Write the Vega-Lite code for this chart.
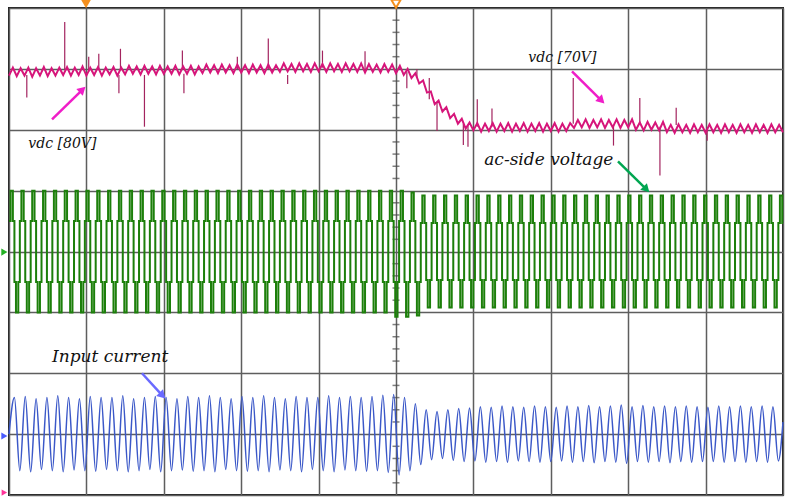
{
"$schema": "https://vega.github.io/schema/vega-lite/v6.json",
"width": 774, "height": 487,
"autosize": {"type": "none"},
"padding": {"left": 9, "top": 8, "right": 4, "bottom": 2},
"background": "white",
"config": {"view": {"stroke": "#1e1e1e", "strokeWidth": 2}},
"datasets": {
"blue": [
{"t":0,"v":1.0},{"t":0.07,"v":1.6},{"t":0.14,"v":0.4},{"t":0.21,"v":1.62},{"t":0.28,"v":0.38},{"t":0.35,"v":1.58},{"t":0.42,"v":0.42},{"t":0.49,"v":1.6},{"t":0.56,"v":0.4},{"t":0.63,"v":1.63},{"t":0.70,"v":0.38},{"t":0.77,"v":1.6},{"t":0.84,"v":0.41},{"t":0.91,"v":1.58},{"t":0.98,"v":0.4},{"t":1.05,"v":1.62},{"t":1.12,"v":0.39},{"t":1.19,"v":1.6},{"t":1.26,"v":0.42},{"t":1.33,"v":1.6},{"t":1.40,"v":0.4},{"t":1.47,"v":1.63},{"t":1.54,"v":0.38},{"t":1.61,"v":1.58},{"t":1.68,"v":0.4},{"t":1.75,"v":1.6},{"t":1.82,"v":0.42},{"t":1.89,"v":1.62},{"t":1.96,"v":0.38},{"t":2.03,"v":1.6},{"t":2.10,"v":0.4},{"t":2.17,"v":1.58},{"t":2.24,"v":0.41},{"t":2.31,"v":1.62},{"t":2.38,"v":0.39},{"t":2.45,"v":1.6},{"t":2.52,"v":0.4},{"t":2.59,"v":1.63},{"t":2.66,"v":0.38},{"t":2.73,"v":1.6},{"t":2.80,"v":0.42},{"t":2.87,"v":1.58},{"t":2.94,"v":0.4},{"t":3.01,"v":1.62},{"t":3.08,"v":0.39},{"t":3.15,"v":1.6},{"t":3.22,"v":0.4},{"t":3.29,"v":1.63},{"t":3.36,"v":0.38},{"t":3.43,"v":1.6},{"t":3.50,"v":0.41},{"t":3.57,"v":1.58},{"t":3.64,"v":0.4},{"t":3.71,"v":1.62},{"t":3.78,"v":0.38},{"t":3.85,"v":1.6},{"t":3.92,"v":0.42},{"t":3.99,"v":1.6},{"t":4.06,"v":0.4},{"t":4.13,"v":1.63},{"t":4.20,"v":0.38},{"t":4.27,"v":1.6},{"t":4.34,"v":0.41},{"t":4.41,"v":1.62},{"t":4.48,"v":0.4},{"t":4.55,"v":1.6},{"t":4.62,"v":0.39},{"t":4.69,"v":1.62},{"t":4.76,"v":0.4},{"t":4.83,"v":1.64},{"t":4.90,"v":0.37},{"t":4.97,"v":1.65},{"t":5.04,"v":0.33},{"t":5.11,"v":1.6},{"t":5.18,"v":0.4},{"t":5.25,"v":1.5},{"t":5.32,"v":0.5},{"t":5.39,"v":1.4},{"t":5.46,"v":0.58},{"t":5.53,"v":1.37},{"t":5.60,"v":0.6},{"t":5.67,"v":1.4},{"t":5.74,"v":0.57},{"t":5.81,"v":1.42},{"t":5.88,"v":0.55},{"t":5.95,"v":1.43},{"t":6.02,"v":0.56},{"t":6.09,"v":1.45},{"t":6.16,"v":0.54},{"t":6.23,"v":1.44},{"t":6.30,"v":0.55},{"t":6.37,"v":1.46},{"t":6.44,"v":0.54},{"t":6.51,"v":1.45},{"t":6.58,"v":0.56},{"t":6.65,"v":1.44},{"t":6.72,"v":0.55},{"t":6.79,"v":1.46},{"t":6.86,"v":0.54},{"t":6.93,"v":1.45},{"t":7.00,"v":0.55},{"t":7.07,"v":1.44},{"t":7.14,"v":0.56},{"t":7.21,"v":1.46},{"t":7.28,"v":0.54},{"t":7.35,"v":1.45},{"t":7.42,"v":0.55},{"t":7.49,"v":1.47},{"t":7.56,"v":0.53},{"t":7.63,"v":1.45},{"t":7.70,"v":0.55},{"t":7.77,"v":1.46},{"t":7.84,"v":0.54},{"t":7.91,"v":1.48},{"t":7.98,"v":0.52},{"t":8.05,"v":1.45},{"t":8.12,"v":0.55},{"t":8.19,"v":1.47},{"t":8.26,"v":0.54},{"t":8.33,"v":1.45},{"t":8.40,"v":0.55},{"t":8.47,"v":1.46},{"t":8.54,"v":0.53},{"t":8.61,"v":1.45},{"t":8.68,"v":0.55},{"t":8.75,"v":1.46},{"t":8.82,"v":0.54},{"t":8.89,"v":1.45},{"t":8.96,"v":0.55},{"t":9.03,"v":1.44},{"t":9.10,"v":0.55},{"t":9.17,"v":1.46},{"t":9.24,"v":0.54},{"t":9.31,"v":1.45},{"t":9.38,"v":0.55},{"t":9.45,"v":1.46},{"t":9.52,"v":0.54},{"t":9.59,"v":1.45},{"t":9.66,"v":0.55},{"t":9.73,"v":1.46},{"t":9.80,"v":0.54},{"t":9.87,"v":1.45},{"t":9.94,"v":0.56},{"t":10.0,"v":1.2}
],
"mag": [
{"t":0.00,"v":6.89},{"t":0.05,"v":7.02},{"t":0.10,"v":6.88},{"t":0.15,"v":7.01},{"t":0.20,"v":6.89},{"t":0.25,"v":7.02},{"t":0.30,"v":6.87},{"t":0.35,"v":7.01},{"t":0.40,"v":6.89},{"t":0.45,"v":7.03},{"t":0.50,"v":6.88},{"t":0.55,"v":7.01},{"t":0.60,"v":6.89},{"t":0.65,"v":7.02},{"t":0.70,"v":6.9},{"t":0.75,"v":7.03},{"t":0.80,"v":6.89},{"t":0.85,"v":7.02},{"t":0.90,"v":6.9},{"t":0.95,"v":7.04},{"t":1.00,"v":6.89},{"t":1.05,"v":7.02},{"t":1.10,"v":6.9},{"t":1.15,"v":7.03},{"t":1.20,"v":6.89},{"t":1.25,"v":7.02},{"t":1.30,"v":6.91},{"t":1.35,"v":7.03},{"t":1.40,"v":6.89},{"t":1.45,"v":7.02},{"t":1.50,"v":6.91},{"t":1.55,"v":7.05},{"t":1.60,"v":6.92},{"t":1.65,"v":7.04},{"t":1.70,"v":6.91},{"t":1.75,"v":7.05},{"t":1.80,"v":6.92},{"t":1.85,"v":7.04},{"t":1.90,"v":6.91},{"t":1.95,"v":7.05},{"t":2.00,"v":6.92},{"t":2.05,"v":7.04},{"t":2.10,"v":6.92},{"t":2.15,"v":7.05},{"t":2.20,"v":6.91},{"t":2.25,"v":7.04},{"t":2.30,"v":6.92},{"t":2.35,"v":7.05},{"t":2.40,"v":6.91},{"t":2.45,"v":7.04},{"t":2.50,"v":6.93},{"t":2.55,"v":7.07},{"t":2.60,"v":6.94},{"t":2.65,"v":7.06},{"t":2.70,"v":6.93},{"t":2.75,"v":7.07},{"t":2.80,"v":6.94},{"t":2.85,"v":7.06},{"t":2.90,"v":6.93},{"t":2.95,"v":7.07},{"t":3.00,"v":6.94},{"t":3.05,"v":7.06},{"t":3.10,"v":6.93},{"t":3.15,"v":7.07},{"t":3.20,"v":6.94},{"t":3.25,"v":7.06},{"t":3.30,"v":6.93},{"t":3.35,"v":7.07},{"t":3.40,"v":6.94},{"t":3.45,"v":7.06},{"t":3.50,"v":6.95},{"t":3.55,"v":7.09},{"t":3.60,"v":6.96},{"t":3.65,"v":7.08},{"t":3.70,"v":6.95},{"t":3.75,"v":7.09},{"t":3.80,"v":6.96},{"t":3.85,"v":7.08},{"t":3.90,"v":6.95},{"t":3.95,"v":7.09},{"t":4.00,"v":6.96},{"t":4.05,"v":7.08},{"t":4.10,"v":6.95},{"t":4.15,"v":7.09},{"t":4.20,"v":6.96},{"t":4.25,"v":7.08},{"t":4.30,"v":6.95},{"t":4.35,"v":7.09},{"t":4.40,"v":6.96},{"t":4.45,"v":7.08},{"t":4.50,"v":6.95},{"t":4.55,"v":7.09},{"t":4.60,"v":6.94},{"t":4.65,"v":7.08},{"t":4.70,"v":6.95},{"t":4.75,"v":7.07},{"t":4.80,"v":6.94},{"t":4.85,"v":7.08},{"t":4.90,"v":6.95},{"t":4.95,"v":7.07},{"t":5.00,"v":6.93},{"t":5.05,"v":7.05},{"t":5.10,"v":6.9},{"t":5.15,"v":7.0},{"t":5.20,"v":6.85},{"t":5.25,"v":6.93},{"t":5.30,"v":6.76},{"t":5.35,"v":6.81},{"t":5.40,"v":6.61},{"t":5.45,"v":6.63},{"t":5.50,"v":6.42},{"t":5.55,"v":6.48},{"t":5.60,"v":6.3},{"t":5.65,"v":6.37},{"t":5.70,"v":6.19},{"t":5.75,"v":6.26},{"t":5.80,"v":6.1},{"t":5.85,"v":6.18},{"t":5.90,"v":6.02},{"t":5.95,"v":6.12},{"t":6.00,"v":5.99},{"t":6.05,"v":6.11},{"t":6.10,"v":5.97},{"t":6.15,"v":6.1},{"t":6.20,"v":5.98},{"t":6.25,"v":6.11},{"t":6.30,"v":5.97},{"t":6.35,"v":6.1},{"t":6.40,"v":5.98},{"t":6.45,"v":6.11},{"t":6.50,"v":5.97},{"t":6.55,"v":6.1},{"t":6.60,"v":5.98},{"t":6.65,"v":6.11},{"t":6.70,"v":5.97},{"t":6.75,"v":6.1},{"t":6.80,"v":5.98},{"t":6.85,"v":6.11},{"t":6.90,"v":5.97},{"t":6.95,"v":6.1},{"t":7.00,"v":5.98},{"t":7.05,"v":6.11},{"t":7.10,"v":5.97},{"t":7.15,"v":6.1},{"t":7.20,"v":5.98},{"t":7.25,"v":6.11},{"t":7.30,"v":6.03},{"t":7.35,"v":6.16},{"t":7.40,"v":6.04},{"t":7.45,"v":6.17},{"t":7.50,"v":6.03},{"t":7.55,"v":6.16},{"t":7.60,"v":6.04},{"t":7.65,"v":6.17},{"t":7.70,"v":6.03},{"t":7.75,"v":6.16},{"t":7.80,"v":6.04},{"t":7.85,"v":6.17},{"t":7.90,"v":6.03},{"t":7.95,"v":6.16},{"t":8.00,"v":6.04},{"t":8.05,"v":6.17},{"t":8.10,"v":6.0},{"t":8.15,"v":6.12},{"t":8.20,"v":5.99},{"t":8.25,"v":6.13},{"t":8.30,"v":6.0},{"t":8.35,"v":6.12},{"t":8.40,"v":5.99},{"t":8.45,"v":6.13},{"t":8.50,"v":5.96},{"t":8.55,"v":6.08},{"t":8.60,"v":5.95},{"t":8.65,"v":6.09},{"t":8.70,"v":5.96},{"t":8.75,"v":6.08},{"t":8.80,"v":5.95},{"t":8.85,"v":6.09},{"t":8.90,"v":5.96},{"t":8.95,"v":6.08},{"t":9.00,"v":5.95},{"t":9.05,"v":6.09},{"t":9.10,"v":5.96},{"t":9.15,"v":6.08},{"t":9.20,"v":5.95},{"t":9.25,"v":6.09},{"t":9.30,"v":5.96},{"t":9.35,"v":6.08},{"t":9.40,"v":5.95},{"t":9.45,"v":6.09},{"t":9.50,"v":5.96},{"t":9.55,"v":6.08},{"t":9.60,"v":5.95},{"t":9.65,"v":6.09},{"t":9.70,"v":5.96},{"t":9.75,"v":6.08},{"t":9.80,"v":5.95},{"t":9.85,"v":6.09},{"t":9.90,"v":5.96},{"t":9.95,"v":6.08},{"t":10.0,"v":5.96}
],
"spikes": [
{"t":0.23,"v":6.9,"v2":6.53},{"t":0.72,"v":7.0,"v2":7.77},{"t":1.03,"v":6.95,"v2":7.2},{"t":1.16,"v":7.0,"v2":7.25},{"t":1.42,"v":6.9,"v2":6.6},{"t":1.44,"v":7.0,"v2":7.33},{"t":1.75,"v":6.9,"v2":6.05},{"t":2.24,"v":7.0,"v2":7.3},{"t":2.26,"v":6.92,"v2":6.6},{"t":2.95,"v":7.0,"v2":7.2},{"t":3.35,"v":7.0,"v2":7.5},{"t":3.6,"v":6.9,"v2":6.75},{"t":4.05,"v":7.02,"v2":7.3},{"t":4.6,"v":7.0,"v2":7.29},{"t":5.14,"v":6.95,"v2":6.68},{"t":5.27,"v":6.85,"v2":7.0},{"t":5.43,"v":6.85,"v2":6.5},{"t":5.53,"v":6.45,"v2":5.98},{"t":5.87,"v":6.1,"v2":5.75},{"t":5.93,"v":6.08,"v2":5.72},{"t":6.05,"v":6.05,"v2":6.5},{"t":6.24,"v":6.05,"v2":6.35},{"t":7.29,"v":6.1,"v2":6.85},{"t":7.81,"v":6.08,"v2":5.74},{"t":8.15,"v":6.1,"v2":6.52},{"t":8.41,"v":6.05,"v2":5.25},{"t":8.62,"v":6.08,"v2":6.36},{"t":9.02,"v":6.0,"v2":5.82}
],
"green": [
{"t":0,"v":4.5},{"t":0.02,"v":5},{"t":0.05,"v":4.5},{"t":0.07,"v":3.5},{"t":0.09,"v":3},{"t":0.12,"v":3.5},
{"t":0.14,"v":4.5},{"t":0.16,"v":5},{"t":0.19,"v":4.5},{"t":0.21,"v":3.5},{"t":0.23,"v":3},{"t":0.26,"v":3.5},
{"t":0.28,"v":4.5},{"t":0.30,"v":5},{"t":0.33,"v":4.5},{"t":0.35,"v":3.5},{"t":0.37,"v":3},{"t":0.40,"v":3.5},
{"t":0.42,"v":4.5},{"t":0.44,"v":5},{"t":0.47,"v":4.5},{"t":0.49,"v":3.5},{"t":0.51,"v":3},{"t":0.54,"v":3.5},
{"t":0.56,"v":4.5},{"t":0.58,"v":5},{"t":0.61,"v":4.5},{"t":0.63,"v":3.5},{"t":0.65,"v":3},{"t":0.68,"v":3.5},
{"t":0.70,"v":4.5},{"t":0.72,"v":5},{"t":0.75,"v":4.5},{"t":0.77,"v":3.5},{"t":0.79,"v":3},{"t":0.82,"v":3.5},
{"t":0.84,"v":4.5},{"t":0.86,"v":5},{"t":0.89,"v":4.5},{"t":0.91,"v":3.5},{"t":0.93,"v":3},{"t":0.96,"v":3.5},
{"t":0.98,"v":4.5},{"t":1.00,"v":5},{"t":1.03,"v":4.5},{"t":1.05,"v":3.5},{"t":1.07,"v":3},{"t":1.10,"v":3.5},
{"t":1.12,"v":4.5},{"t":1.14,"v":5},{"t":1.17,"v":4.5},{"t":1.19,"v":3.5},{"t":1.21,"v":3},{"t":1.24,"v":3.5},
{"t":1.26,"v":4.5},{"t":1.28,"v":5},{"t":1.31,"v":4.5},{"t":1.33,"v":3.5},{"t":1.35,"v":3},{"t":1.38,"v":3.5},
{"t":1.40,"v":4.5},{"t":1.42,"v":5},{"t":1.45,"v":4.5},{"t":1.47,"v":3.5},{"t":1.49,"v":3},{"t":1.52,"v":3.5},
{"t":1.54,"v":4.5},{"t":1.56,"v":5},{"t":1.59,"v":4.5},{"t":1.61,"v":3.5},{"t":1.63,"v":3},{"t":1.66,"v":3.5},
{"t":1.68,"v":4.5},{"t":1.70,"v":5},{"t":1.73,"v":4.5},{"t":1.75,"v":3.5},{"t":1.77,"v":3},{"t":1.80,"v":3.5},
{"t":1.82,"v":4.5},{"t":1.84,"v":5},{"t":1.87,"v":4.5},{"t":1.89,"v":3.5},{"t":1.91,"v":3},{"t":1.94,"v":3.5},
{"t":1.96,"v":4.5},{"t":1.98,"v":5},{"t":2.01,"v":4.5},{"t":2.03,"v":3.5},{"t":2.05,"v":3},{"t":2.08,"v":3.5},
{"t":2.10,"v":4.5},{"t":2.12,"v":5},{"t":2.15,"v":4.5},{"t":2.17,"v":3.5},{"t":2.19,"v":3},{"t":2.22,"v":3.5},
{"t":2.24,"v":4.5},{"t":2.26,"v":5},{"t":2.29,"v":4.5},{"t":2.31,"v":3.5},{"t":2.33,"v":3},{"t":2.36,"v":3.5},
{"t":2.38,"v":4.5},{"t":2.40,"v":5},{"t":2.43,"v":4.5},{"t":2.45,"v":3.5},{"t":2.47,"v":3},{"t":2.50,"v":3.5},
{"t":2.52,"v":4.5},{"t":2.54,"v":5},{"t":2.57,"v":4.5},{"t":2.59,"v":3.5},{"t":2.61,"v":3},{"t":2.64,"v":3.5},
{"t":2.66,"v":4.5},{"t":2.68,"v":5},{"t":2.71,"v":4.5},{"t":2.73,"v":3.5},{"t":2.75,"v":3},{"t":2.78,"v":3.5},
{"t":2.80,"v":4.5},{"t":2.82,"v":5},{"t":2.85,"v":4.5},{"t":2.87,"v":3.5},{"t":2.89,"v":3},{"t":2.92,"v":3.5},
{"t":2.94,"v":4.5},{"t":2.96,"v":5},{"t":2.99,"v":4.5},{"t":3.01,"v":3.5},{"t":3.03,"v":3},{"t":3.06,"v":3.5},
{"t":3.08,"v":4.5},{"t":3.10,"v":5},{"t":3.13,"v":4.5},{"t":3.15,"v":3.5},{"t":3.17,"v":3},{"t":3.20,"v":3.5},
{"t":3.22,"v":4.5},{"t":3.24,"v":5},{"t":3.27,"v":4.5},{"t":3.29,"v":3.5},{"t":3.31,"v":3},{"t":3.34,"v":3.5},
{"t":3.36,"v":4.5},{"t":3.38,"v":5},{"t":3.41,"v":4.5},{"t":3.43,"v":3.5},{"t":3.45,"v":3},{"t":3.48,"v":3.5},
{"t":3.50,"v":4.5},{"t":3.52,"v":5},{"t":3.55,"v":4.5},{"t":3.57,"v":3.5},{"t":3.59,"v":3},{"t":3.62,"v":3.5},
{"t":3.64,"v":4.5},{"t":3.66,"v":5},{"t":3.69,"v":4.5},{"t":3.71,"v":3.5},{"t":3.73,"v":3},{"t":3.76,"v":3.5},
{"t":3.78,"v":4.5},{"t":3.80,"v":5},{"t":3.83,"v":4.5},{"t":3.85,"v":3.5},{"t":3.87,"v":3},{"t":3.90,"v":3.5},
{"t":3.92,"v":4.5},{"t":3.94,"v":5},{"t":3.97,"v":4.5},{"t":3.99,"v":3.5},{"t":4.01,"v":3},{"t":4.04,"v":3.5},
{"t":4.06,"v":4.5},{"t":4.08,"v":5},{"t":4.11,"v":4.5},{"t":4.13,"v":3.5},{"t":4.15,"v":3},{"t":4.18,"v":3.5},
{"t":4.20,"v":4.5},{"t":4.22,"v":5},{"t":4.25,"v":4.5},{"t":4.27,"v":3.5},{"t":4.29,"v":3},{"t":4.32,"v":3.5},
{"t":4.34,"v":4.5},{"t":4.36,"v":5},{"t":4.39,"v":4.5},{"t":4.41,"v":3.5},{"t":4.43,"v":3},{"t":4.46,"v":3.5},
{"t":4.48,"v":4.5},{"t":4.50,"v":5},{"t":4.53,"v":4.5},{"t":4.55,"v":3.5},{"t":4.57,"v":3},{"t":4.60,"v":3.5},
{"t":4.62,"v":4.5},{"t":4.64,"v":5},{"t":4.67,"v":4.5},{"t":4.69,"v":3.5},{"t":4.71,"v":3},{"t":4.74,"v":3.5},
{"t":4.76,"v":4.5},{"t":4.78,"v":5},{"t":4.81,"v":4.5},{"t":4.83,"v":3.5},{"t":4.85,"v":3},{"t":4.88,"v":3.5},
{"t":4.90,"v":4.5},{"t":4.92,"v":5},{"t":4.95,"v":4.5},{"t":4.97,"v":3.5},{"t":4.99,"v":2.93},{"t":5.02,"v":3.5},
{"t":5.04,"v":4.5},{"t":5.06,"v":5},{"t":5.09,"v":4.5},{"t":5.11,"v":3.5},{"t":5.13,"v":2.93},{"t":5.16,"v":3.5},
{"t":5.18,"v":4.5},{"t":5.20,"v":4.97},{"t":5.23,"v":4.5},{"t":5.25,"v":3.5},{"t":5.27,"v":2.95},{"t":5.30,"v":3.5},
{"t":5.32,"v":4.47},{"t":5.34,"v":4.92},{"t":5.37,"v":4.47},{"t":5.39,"v":3.53},{"t":5.41,"v":3.08},{"t":5.44,"v":3.53},
{"t":5.46,"v":4.47},{"t":5.48,"v":4.92},{"t":5.51,"v":4.47},{"t":5.53,"v":3.53},{"t":5.55,"v":3.08},{"t":5.58,"v":3.53},
{"t":5.60,"v":4.47},{"t":5.62,"v":4.92},{"t":5.65,"v":4.47},{"t":5.67,"v":3.53},{"t":5.69,"v":3.08},{"t":5.72,"v":3.53},
{"t":5.74,"v":4.47},{"t":5.76,"v":4.92},{"t":5.79,"v":4.47},{"t":5.81,"v":3.53},{"t":5.83,"v":3.08},{"t":5.86,"v":3.53},
{"t":5.88,"v":4.47},{"t":5.90,"v":4.92},{"t":5.93,"v":4.47},{"t":5.95,"v":3.53},{"t":5.97,"v":3.08},{"t":6.00,"v":3.53},
{"t":6.02,"v":4.47},{"t":6.04,"v":4.92},{"t":6.07,"v":4.47},{"t":6.09,"v":3.53},{"t":6.11,"v":3.08},{"t":6.14,"v":3.53},
{"t":6.16,"v":4.47},{"t":6.18,"v":4.92},{"t":6.21,"v":4.47},{"t":6.23,"v":3.53},{"t":6.25,"v":3.08},{"t":6.28,"v":3.53},
{"t":6.30,"v":4.47},{"t":6.32,"v":4.92},{"t":6.35,"v":4.47},{"t":6.37,"v":3.53},{"t":6.39,"v":3.08},{"t":6.42,"v":3.53},
{"t":6.44,"v":4.47},{"t":6.46,"v":4.92},{"t":6.49,"v":4.47},{"t":6.51,"v":3.53},{"t":6.53,"v":3.08},{"t":6.56,"v":3.53},
{"t":6.58,"v":4.47},{"t":6.60,"v":4.92},{"t":6.63,"v":4.47},{"t":6.65,"v":3.53},{"t":6.67,"v":3.08},{"t":6.70,"v":3.53},
{"t":6.72,"v":4.47},{"t":6.74,"v":4.92},{"t":6.77,"v":4.47},{"t":6.79,"v":3.53},{"t":6.81,"v":3.08},{"t":6.84,"v":3.53},
{"t":6.86,"v":4.47},{"t":6.88,"v":4.92},{"t":6.91,"v":4.47},{"t":6.93,"v":3.53},{"t":6.95,"v":3.08},{"t":6.98,"v":3.53},
{"t":7.00,"v":4.47},{"t":7.02,"v":4.92},{"t":7.05,"v":4.47},{"t":7.07,"v":3.53},{"t":7.09,"v":3.08},{"t":7.12,"v":3.53},
{"t":7.14,"v":4.47},{"t":7.16,"v":4.92},{"t":7.19,"v":4.47},{"t":7.21,"v":3.53},{"t":7.23,"v":3.08},{"t":7.26,"v":3.53},
{"t":7.28,"v":4.47},{"t":7.30,"v":4.92},{"t":7.33,"v":4.47},{"t":7.35,"v":3.53},{"t":7.37,"v":3.08},{"t":7.40,"v":3.53},
{"t":7.42,"v":4.47},{"t":7.44,"v":4.92},{"t":7.47,"v":4.47},{"t":7.49,"v":3.53},{"t":7.51,"v":3.08},{"t":7.54,"v":3.53},
{"t":7.56,"v":4.47},{"t":7.58,"v":4.92},{"t":7.61,"v":4.47},{"t":7.63,"v":3.53},{"t":7.65,"v":3.08},{"t":7.68,"v":3.53},
{"t":7.70,"v":4.47},{"t":7.72,"v":4.92},{"t":7.75,"v":4.47},{"t":7.77,"v":3.53},{"t":7.79,"v":3.08},{"t":7.82,"v":3.53},
{"t":7.84,"v":4.47},{"t":7.86,"v":4.92},{"t":7.89,"v":4.47},{"t":7.91,"v":3.53},{"t":7.93,"v":3.08},{"t":7.96,"v":3.53},
{"t":7.98,"v":4.47},{"t":8.00,"v":4.92},{"t":8.03,"v":4.47},{"t":8.05,"v":3.53},{"t":8.07,"v":3.08},{"t":8.10,"v":3.53},
{"t":8.12,"v":4.47},{"t":8.14,"v":4.92},{"t":8.17,"v":4.47},{"t":8.19,"v":3.53},{"t":8.21,"v":3.08},{"t":8.24,"v":3.53},
{"t":8.26,"v":4.47},{"t":8.28,"v":4.92},{"t":8.31,"v":4.47},{"t":8.33,"v":3.53},{"t":8.35,"v":3.08},{"t":8.38,"v":3.53},
{"t":8.40,"v":4.47},{"t":8.42,"v":4.92},{"t":8.45,"v":4.47},{"t":8.47,"v":3.53},{"t":8.49,"v":3.08},{"t":8.52,"v":3.53},
{"t":8.54,"v":4.47},{"t":8.56,"v":4.92},{"t":8.59,"v":4.47},{"t":8.61,"v":3.53},{"t":8.63,"v":3.08},{"t":8.66,"v":3.53},
{"t":8.68,"v":4.47},{"t":8.70,"v":4.92},{"t":8.73,"v":4.47},{"t":8.75,"v":3.53},{"t":8.77,"v":3.08},{"t":8.80,"v":3.53},
{"t":8.82,"v":4.47},{"t":8.84,"v":4.92},{"t":8.87,"v":4.47},{"t":8.89,"v":3.53},{"t":8.91,"v":3.08},{"t":8.94,"v":3.53},
{"t":8.96,"v":4.47},{"t":8.98,"v":4.92},{"t":9.01,"v":4.47},{"t":9.03,"v":3.53},{"t":9.05,"v":3.08},{"t":9.08,"v":3.53},
{"t":9.10,"v":4.47},{"t":9.12,"v":4.92},{"t":9.15,"v":4.47},{"t":9.17,"v":3.53},{"t":9.19,"v":3.08},{"t":9.22,"v":3.53},
{"t":9.24,"v":4.47},{"t":9.26,"v":4.92},{"t":9.29,"v":4.47},{"t":9.31,"v":3.53},{"t":9.33,"v":3.08},{"t":9.36,"v":3.53},
{"t":9.38,"v":4.47},{"t":9.40,"v":4.92},{"t":9.43,"v":4.47},{"t":9.45,"v":3.53},{"t":9.47,"v":3.08},{"t":9.50,"v":3.53},
{"t":9.52,"v":4.47},{"t":9.54,"v":4.92},{"t":9.57,"v":4.47},{"t":9.59,"v":3.53},{"t":9.61,"v":3.08},{"t":9.64,"v":3.53},
{"t":9.66,"v":4.47},{"t":9.68,"v":4.92},{"t":9.71,"v":4.47},{"t":9.73,"v":3.53},{"t":9.75,"v":3.08},{"t":9.78,"v":3.53},
{"t":9.80,"v":4.47},{"t":9.82,"v":4.92},{"t":9.85,"v":4.47},{"t":9.87,"v":3.53},{"t":9.89,"v":3.08},{"t":9.92,"v":3.53},
{"t":9.94,"v":4.47},{"t":9.96,"v":4.92},{"t":9.99,"v":4.47},{"t":10.0,"v":4.47}
],
"ticks": [
{"t":5,"v":0.2},{"t":5,"v":0.4},{"t":5,"v":0.6},{"t":5,"v":0.8},{"t":5,"v":1.2},{"t":5,"v":1.4},{"t":5,"v":1.6},{"t":5,"v":1.8},
{"t":5,"v":2.2},{"t":5,"v":2.4},{"t":5,"v":2.6},{"t":5,"v":2.8},{"t":5,"v":3.2},{"t":5,"v":3.4},{"t":5,"v":3.6},{"t":5,"v":3.8},
{"t":5,"v":4.2},{"t":5,"v":4.4},{"t":5,"v":4.6},{"t":5,"v":4.8},{"t":5,"v":5.2},{"t":5,"v":5.4},{"t":5,"v":5.6},{"t":5,"v":5.8},
{"t":5,"v":6.2},{"t":5,"v":6.4},{"t":5,"v":6.6},{"t":5,"v":6.8},{"t":5,"v":7.2},{"t":5,"v":7.4},{"t":5,"v":7.6},{"t":5,"v":7.8}
],
"arrows": [
{"t":0.556,"v":6.17,"t2":0.95,"v2":6.66,"c":"m"},
{"t":7.274,"v":6.96,"t2":7.655,"v2":6.48,"c":"m"},
{"t":7.868,"v":5.48,"t2":8.236,"v2":5.02,"c":"g"},
{"t":1.718,"v":2.0,"t2":1.983,"v2":1.634,"c":"b"}
],
"headsUp": [
{"t":0.95,"v":6.66,"c":"m"}
],
"headsDown": [
{"t":7.655,"v":6.48,"c":"m"},
{"t":8.236,"v":5.02,"c":"g"},
{"t":1.983,"v":1.634,"c":"b"}
]
},
"encoding": {
"x": {"field": "t", "type": "quantitative", "scale": {"domain": [0, 10], "nice": false, "zero": false},
 "axis": {"values": [0,1,2,3,4,5,6,7,8,9,10], "grid": true, "gridColor": "#5e5e5e", "gridWidth": 1.5, "gridOpacity": 1, "labels": false, "ticks": false, "domain": false, "title": null}},
"y": {"field": "v", "type": "quantitative", "scale": {"domain": [0, 8], "nice": false, "zero": false},
 "axis": {"values": [0,1,2,3,4,5,6,7,8], "grid": true, "gridColor": "#5e5e5e", "gridWidth": 1.5, "gridOpacity": 1, "labels": false, "ticks": false, "domain": false, "title": null}}
},
"layer": [
{"data": {"name": "ticks"}, "mark": {"type": "tick", "orient": "horizontal", "size": 7, "thickness": 1.5, "color": "#4a4a4a"}},
{"data": {"name": "green"}, "mark": {"type": "line", "interpolate": "step-after", "color": "#1c7f0a", "strokeWidth": 2}},
{"data": {"name": "blue"}, "mark": {"type": "line", "interpolate": "monotone", "color": "#3b58c8", "strokeWidth": 1.5}},
{"data": {"name": "spikes"}, "mark": {"type": "rule", "color": "#a3245f", "strokeWidth": 1.2}, "encoding": {"y2": {"field": "v2"}}},
{"data": {"name": "mag"}, "mark": {"type": "line", "color": "#d6157a", "strokeWidth": 2}},
{"data": {"name": "arrows"}, "mark": {"type": "rule", "strokeWidth": 2.5},
 "encoding": {"x2": {"field": "t2"}, "y2": {"field": "v2"},
  "color": {"field": "c", "type": "nominal", "scale": {"domain": ["m", "g", "b"], "range": ["#f01ec8", "#00a651", "#6a6aff"]}, "legend": null}}},
{"data": {"name": "headsUp"}, "mark": {"type": "point", "shape": "triangle-up", "angle": 47, "size": 90, "filled": true, "opacity": 1},
 "encoding": {"color": {"field": "c", "type": "nominal", "scale": {"domain": ["m", "g", "b"], "range": ["#f01ec8", "#00a651", "#6a6aff"]}, "legend": null}}},
{"data": {"name": "headsDown"}, "mark": {"type": "point", "shape": "triangle-up", "angle": 135, "size": 90, "filled": true, "opacity": 1},
 "encoding": {"color": {"field": "c", "type": "nominal", "scale": {"domain": ["m", "g", "b"], "range": ["#f01ec8", "#00a651", "#6a6aff"]}, "legend": null}}},
{"data": {"values": [{"t": 0.25, "v": 5.76, "s": "vdc [80V]"}, {"t": 6.71, "v": 7.18, "s": "vdc [70V]"}]},
 "mark": {"type": "text", "font": "DejaVu Serif", "fontStyle": "italic", "fontSize": 14, "align": "left", "baseline": "middle", "color": "#111"},
 "encoding": {"text": {"field": "s"}}},
{"data": {"values": [{"t": 6.14, "v": 5.5, "s": "ac-side voltage"}, {"t": 0.556, "v": 2.27, "s": "Input current"}]},
 "mark": {"type": "text", "font": "DejaVu Serif", "fontStyle": "italic", "fontSize": 17, "align": "left", "baseline": "middle", "color": "#111"},
 "encoding": {"text": {"field": "s"}}},
{"data": {"values": [{"t": 0.995, "v": 8.07}]}, "mark": {"type": "point", "shape": "triangle-down", "size": 110, "filled": true, "color": "#f5901e", "opacity": 1}},
{"data": {"values": [{"t": 5.0, "v": 8.07}]}, "mark": {"type": "point", "shape": "triangle-down", "size": 90, "filled": false, "color": "#f5901e", "strokeWidth": 2, "opacity": 1}},
{"data": {"values": [{"t": -0.06, "v": 3.99}]}, "mark": {"type": "point", "shape": "triangle-right", "size": 50, "filled": true, "color": "#22b022", "opacity": 1}},
{"data": {"values": [{"t": -0.06, "v": 0.97}]}, "mark": {"type": "point", "shape": "triangle-right", "size": 50, "filled": true, "color": "#4a5cff", "opacity": 1}},
{"data": {"values": [{"t": -0.06, "v": 0.04}]}, "mark": {"type": "point", "shape": "triangle-right", "size": 40, "filled": true, "color": "#ff3399", "opacity": 1}}
]
}
